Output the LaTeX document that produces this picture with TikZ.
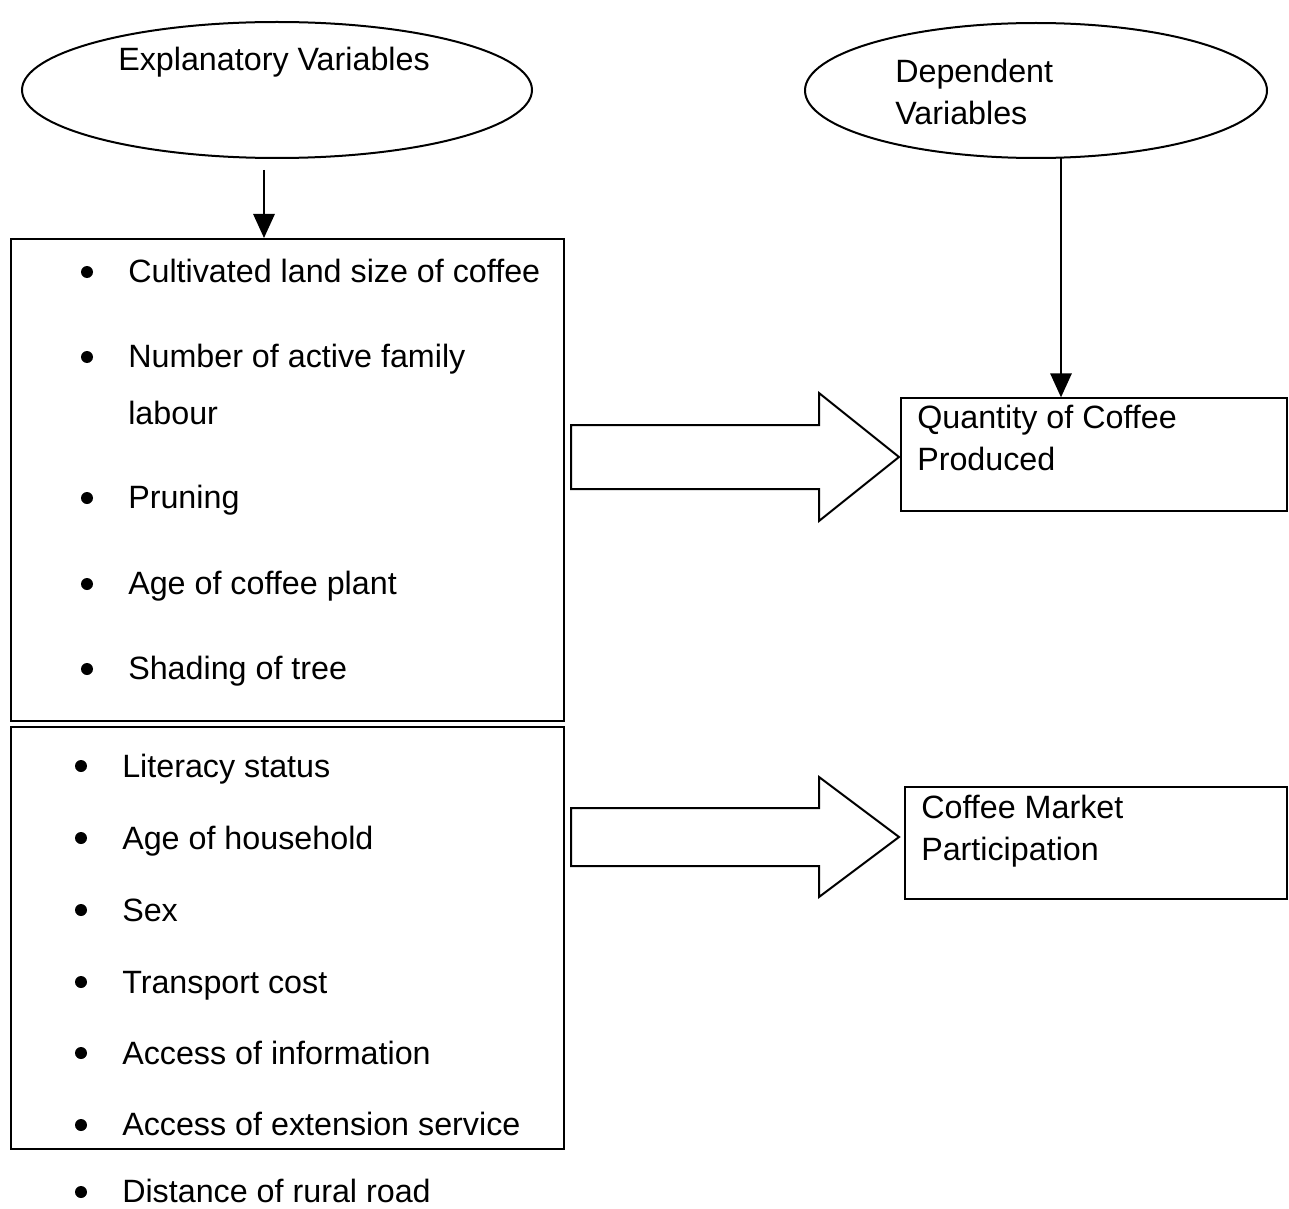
\documentclass[tikz,border=0pt]{standalone}
\usepackage{fontspec}
\setmainfont{Liberation Sans}
\usetikzlibrary{shapes.geometric,arrows.meta}
\begin{document}
\begin{tikzpicture}[x=0.75pt,y=-0.75pt,
  txt/.style={anchor=base west,inner sep=0pt,font=\fontsize{24.2}{28}\selectfont},
  bul/.style={circle,fill=black,inner sep=0pt,minimum size=9pt},
  oval/.style={ellipse,draw,line width=1.5pt,inner sep=0pt},
  bigbox/.style={draw,line width=1.5pt,inner sep=0pt},
  outbox/.style={draw,line width=1pt,inner sep=0pt},
  conn/.style={line width=1.5pt,-{Triangle[length=18pt,width=16pt]}},
  blockarrow/.style={draw,line width=1.5pt,line join=miter}]
\useasboundingbox (0,0) rectangle (1289,1209);
% ellipses
\node[oval,minimum width=382.5pt,minimum height=102pt] (ell1) at (277,90) {};
\node[oval,minimum width=346.5pt,minimum height=101.25pt] (ell2) at (1036,90.5) {};
\node[txt] (t1) at (118,71) {Explanatory Variables};
\node[txt] (t2a) at (895,83) {Dependent};
\node[txt] (t2b) at (895,125) {Variables};
% boxes
\node[bigbox,minimum width=414.75pt,minimum height=361.5pt] (upper) at (287.5,480) {};
\node[bigbox,minimum width=414.75pt,minimum height=316.5pt] (lower) at (287.5,938) {};
\node[outbox,minimum width=289.5pt,minimum height=84.75pt] (qbox) at (1094,454.5) {};
\node[outbox,minimum width=286.5pt,minimum height=84pt] (cbox) at (1096,843) {};
% vertical arrows
\coordinate (a1s) at (264,170);
\draw[conn] (a1s) -- (a1s |- upper.north);
\coordinate (a2s) at (1061,158);
\draw[conn] (a2s) -- (a2s |- qbox.north);
% upper bullets
\node[bul] (u1b) at (87,272) {}; \node[txt] (u1) at (128,282) {Cultivated land size of coffee};
\node[bul] (u2b) at (87,357) {}; \node[txt] (u2) at (128,367) {Number of active family};
\node[txt] (u2c) at (128,424) {labour};
\node[bul] (u3b) at (87,498) {}; \node[txt] (u3) at (128,508) {Pruning};
\node[bul] (u4b) at (87,584) {}; \node[txt] (u4) at (128,594) {Age of coffee plant};
\node[bul] (u5b) at (87,669) {}; \node[txt] (u5) at (128,679) {Shading of tree};
% lower bullets
\node[bul] (l1b) at (81,766) {}; \node[txt] (l1) at (122,777) {Literacy status};
\node[bul] (l2b) at (81,838) {}; \node[txt] (l2) at (122,849) {Age of household};
\node[bul] (l3b) at (81,910) {}; \node[txt] (l3) at (122,921) {Sex};
\node[bul] (l4b) at (81,982) {}; \node[txt] (l4) at (122,993) {Transport cost};
\node[bul] (l5b) at (81,1053) {}; \node[txt] (l5) at (122,1064) {Access of information};
\node[bul] (l6b) at (81,1125) {}; \node[txt] (l6) at (122,1135) {Access of extension service};
\node[bul] (l7b) at (81,1192) {}; \node[txt] (l7) at (122,1202) {Distance of rural road};
% output texts
\node[txt] (q1) at (917,428) {Quantity of Coffee};
\node[txt] (q2) at (917,470) {Produced};
\node[txt] (c1) at (921,818) {Coffee Market};
\node[txt] (c2) at (921,860) {Participation};
% block arrows
\draw[blockarrow] (571,425) -- (819,425) -- (819,393) -- (899,457) -- (819,521) -- (819,489) -- (571,489) -- cycle;
\draw[blockarrow] (571,808) -- (819,808) -- (819,777) -- (899,837) -- (819,897) -- (819,866) -- (571,866) -- cycle;
\end{tikzpicture}
\end{document}
